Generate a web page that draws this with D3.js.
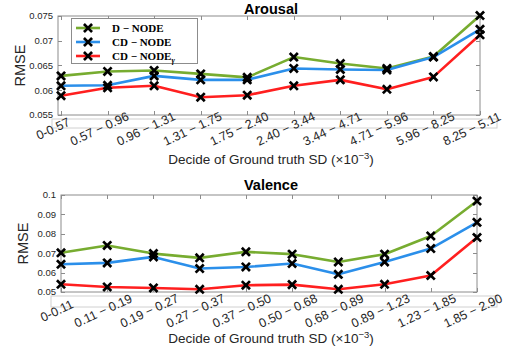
<!DOCTYPE html>
<html><head><meta charset="utf-8">
<script src="https://cdn.jsdelivr.net/npm/d3@7"></script>
<style>body{margin:0;background:#fff}svg{display:block}</style>
</head><body>
<svg id="chart" width="514" height="350"></svg>
<script>
const arousalCats = ["0-0.57","0.57 \u2212 0.96","0.96 \u2212 1.31","1.31 \u2212 1.75","1.75 \u2212 2.40","2.40 \u2212 3.44","3.44 \u2212 4.71","4.71 \u2212 5.96","5.96 \u2212 8.25","8.25 \u2212 5.11"];
const valenceCats = ["0-0.11","0.11 \u2212 0.19","0.19 \u2212 0.27","0.27 \u2212 0.37","0.37 \u2212 0.50","0.50 \u2212 0.68","0.68 \u2212 0.89","0.89 \u2212 1.23","1.23 \u2212 1.85","1.85 \u2212 2.90"];
const arousalD   = [0.0629,0.0638,0.0640,0.0633,0.0626,0.0667,0.0654,0.0644,0.0668,0.0751];
const arousalCD  = [0.0609,0.0610,0.0629,0.0621,0.0621,0.0644,0.0642,0.0641,0.0667,0.0723];
const arousalCDg = [0.0589,0.0605,0.0609,0.0586,0.0590,0.0609,0.0621,0.0602,0.0627,0.0712];
const valenceD   = [0.0702,0.0740,0.0698,0.0676,0.0707,0.0695,0.0655,0.0695,0.0789,0.0969];
const valenceCD  = [0.0643,0.0650,0.0681,0.0621,0.0629,0.0647,0.0591,0.0655,0.0724,0.0859];
const valenceCDg = [0.0540,0.0526,0.0521,0.0514,0.0535,0.0538,0.0514,0.0540,0.0585,0.0781];
const arousalTicks = [0.055,0.06,0.065,0.07,0.075];
const arousalTickLabels = ["0.055","0.06","0.065","0.07","0.075"];
const valenceTicks = [0.05,0.06,0.07,0.08,0.09,0.1];
const valenceTickLabels = ["0.05","0.06","0.07","0.08","0.09","0.1"];
const seriesNames = ["D \u2212 NODE","CD \u2212 NODE","CD \u2212 NODE"];
const seriesColors = ["#77AC30","#2B8FEA","#FF1F1F"];

const svg = d3.select("#chart");
const sans = "Arial, 'Liberation Sans', Helvetica, sans-serif";

function xMark(g, x, y) {
  const s = 3.1;
  g.append("path")
    .attr("d", `M${x-s},${y-s}L${x+s},${y+s}M${x-s},${y+s}L${x+s},${y-s}`)
    .attr("stroke", "#000").attr("stroke-width", 2.7).attr("stroke-linecap","square");
}

function panel(o) {
  const g = svg.append("g");
  const x = d3.scaleLinear().domain(o.xdom).range([o.left, o.right]);
  const y = d3.scaleLinear().domain(o.ydom).range([o.bottom, o.top]);
  const idx = d3.range(1, 11);

  g.append("rect").attr("x", o.ghost[0]).attr("y", o.ghost[1])
    .attr("width", o.ghost[2]-o.ghost[0]).attr("height", o.ghost[3]-o.ghost[1])
    .attr("fill","none").attr("stroke","#d0d0d0").attr("stroke-width",1);

  g.append("rect").attr("x", o.left).attr("y", o.top)
    .attr("width", o.right-o.left).attr("height", o.bottom-o.top)
    .attr("fill","#fff").attr("stroke","#8c8c8c").attr("stroke-width",1);

  const tl = 4;
  o.yticks.forEach((t,i) => {
    const yy = Math.round(y(t))+0.5;
    g.append("line").attr("x1",o.left).attr("x2",o.left+tl).attr("y1",yy).attr("y2",yy).attr("stroke","#8c8c8c");
    g.append("line").attr("x1",o.right).attr("x2",o.right-tl).attr("y1",yy).attr("y2",yy).attr("stroke","#8c8c8c");
    g.append("text").attr("x", o.left-5).attr("y", y(t)).attr("dy","0.35em")
      .attr("text-anchor","end").attr("font-family",sans).attr("font-size",9.5).attr("fill","#262626")
      .text(o.ytickLabels[i]);
  });
  idx.forEach((v,i) => {
    const xx = Math.round(x(v))+0.5;
    g.append("line").attr("x1",xx).attr("x2",xx).attr("y1",o.bottom).attr("y2",o.bottom-tl).attr("stroke","#8c8c8c");
    g.append("line").attr("x1",xx).attr("x2",xx).attr("y1",o.top).attr("y2",o.top+tl).attr("stroke","#8c8c8c");
    g.append("text")
      .attr("transform", `translate(${x(v)+o.labDx},${o.labY}) rotate(-25)`)
      .attr("text-anchor","middle").attr("dominant-baseline","central")
      .attr("font-family",sans).attr("font-size",12.5).attr("fill","#262626")
      .text(o.cats[i]);
  });

  const line = d3.line().x((d,i)=>x(i+1)).y(d=>y(d));
  o.series.forEach((s,k) => {
    g.append("path").attr("d", line(s)).attr("fill","none")
      .attr("stroke", seriesColors[k]).attr("stroke-width",2.6).attr("stroke-linejoin","round");
  });
  o.series.forEach(s => s.forEach((d,i) => xMark(g, x(i+1), y(d))));

  g.append("text").attr("x", (o.left+o.right)/2+2).attr("y", o.titleY)
    .attr("text-anchor","middle").attr("font-family",sans).attr("font-weight","bold")
    .attr("font-size",14.5).attr("fill","#000").text(o.title);
  g.append("text").attr("transform", `translate(${o.ylabX},${(o.top+o.bottom)/2}) rotate(-90)`)
    .attr("text-anchor","middle").attr("font-family",sans).attr("font-size",14.5).attr("fill","#262626")
    .text("RMSE");
  const xl = g.append("text").attr("x", 271).attr("y", o.xlabY)
    .attr("text-anchor","middle").attr("font-family",sans).attr("font-size",13.5).attr("fill","#262626");
  xl.append("tspan").text("Decide of Ground truth SD (\u00d710");
  xl.append("tspan").attr("dy",-5).attr("font-size",9.5).text("\u22123");
  xl.append("tspan").attr("dy",5).text(")");
  return {g, x, y};
}

panel({
  left:58, right:480, top:16, bottom:115, xdom:[0.935,10], ydom:[0.055,0.075],
  yticks: arousalTicks, ytickLabels: arousalTickLabels, cats: arousalCats,
  series:[arousalD, arousalCD, arousalCDg], title:"Arousal", titleY:14,
  ylabX:25, xlabY:164, labDx:-8, labY:129, ghost:[52,119,497,128]
});
panel({
  left:61, right:477, top:195, bottom:292, xdom:[1,10], ydom:[0.05,0.1],
  yticks: valenceTicks, ytickLabels: valenceTickLabels, cats: valenceCats,
  series:[valenceD, valenceCD, valenceCDg], title:"Valence", titleY:190,
  ylabX:28, xlabY:343, labDx:-4, labY:311, ghost:[51,296,497,307]
});

const lg = svg.append("g");
lg.append("rect").attr("x",71.5).attr("y",18.5).attr("width",126).attr("height",45)
  .attr("fill","#fff").attr("stroke","#8c8c8c");
seriesNames.forEach((n,k) => {
  const yy = 28 + k*14;
  lg.append("line").attr("x1",76).attr("x2",100).attr("y1",yy).attr("y2",yy)
    .attr("stroke",seriesColors[k]).attr("stroke-width",2.6);
  xMark(lg, 88, yy);
  const t = lg.append("text").attr("x",112).attr("y",yy+4)
    .attr("font-family","'Liberation Serif','Times New Roman',serif").attr("font-weight","bold")
    .attr("font-size",11).attr("fill","#000").text(n);
  if (k === 2) t.append("tspan").attr("font-size",8).attr("dy",2.5).attr("font-style","italic").text("\u03b3");
});
</script>
</body></html>
